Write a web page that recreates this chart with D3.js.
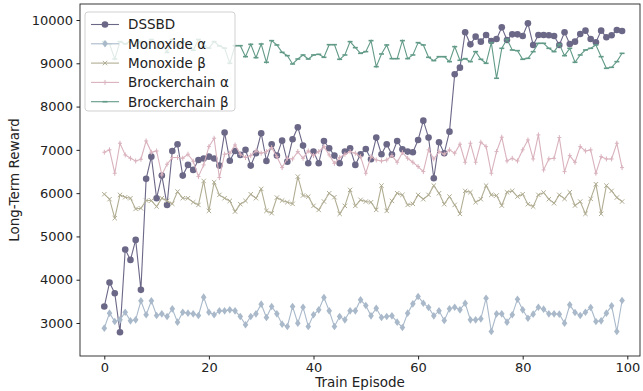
<!DOCTYPE html>
<html><head><meta charset="utf-8">
<script src="https://cdn.jsdelivr.net/npm/d3@7"></script>
<style>body{margin:0;background:#fff}svg text{font-family:"DejaVu Sans",sans-serif}</style>
</head><body><svg id="c" width="643" height="391"></svg>
<script>
const episodes = d3.range(0, 100);
const seriesNames = ["DSSBD","Monoxide α","Monoxide β","Brockerchain α","Brockerchain β"];
const dssbd = [3380,3934,3689,2788,4697,4458,4920,3766,6330,6843,5883,6405,5728,6975,7130,6405,6652,6537,6767,6800,6843,6800,6636,7400,6750,6975,6883,7000,6636,6922,7384,6744,7130,6867,7213,6728,7245,7523,7098,6690,6960,6690,7206,7037,6867,6690,6960,7037,6652,6900,7021,6783,7283,6899,7130,6890,7206,7014,6960,6945,7229,7675,7283,6345,7176,6922,7421,8746,8899,9716,9438,9615,9500,9654,9515,9561,9830,9538,9669,9669,9630,9923,9423,9654,9654,9646,9630,9423,9716,9446,9500,9677,9754,9561,9485,9754,9600,9646,9769,9746];
const monoxideA = [2881,3228,3034,3073,3250,3050,3073,3512,3189,3512,3173,3211,3150,3327,3020,3250,3228,3211,3173,3597,3250,3189,3281,3281,3304,3281,3150,2958,3150,3211,3435,3127,3380,3211,2974,2920,3380,2997,3365,2920,3189,3304,3589,3281,2920,3150,3073,3281,3281,3535,3404,3165,3342,3127,3150,3165,3020,2896,3228,3442,3612,3458,3357,3165,3281,3057,3327,3365,3304,3458,3073,3073,3096,3573,2804,3211,3211,3020,3189,3550,3304,3111,3204,3365,3320,3211,3211,3204,2997,3419,3242,3173,3250,3357,3034,3050,3228,3396,2804,3520];
const monoxideB = [5975,5860,5421,5960,5906,5883,5636,5650,5829,5829,5690,5883,5822,5752,6036,5883,5883,5790,5728,6282,5590,6252,5960,5883,5821,5574,5745,5821,5975,5883,6098,5590,5537,5898,5829,5790,5752,6382,5945,5921,5706,5613,5806,5998,5906,5521,5706,6075,5706,5845,5806,5790,5613,6174,5590,5821,5998,5960,5728,5752,5960,5860,5960,6174,5998,5745,5921,5728,5521,6052,6021,5790,5860,6174,5960,5945,5713,6021,6052,5921,5975,5745,5690,5960,6013,5860,5767,5960,5868,6021,5713,5806,5521,5868,6206,5521,6174,6052,5898,5806];
const brockerA = [6945,7000,6460,7152,6883,6806,6744,6783,7206,6945,6975,6421,6668,6822,6822,6806,6899,6737,6382,6652,7075,7268,6360,6899,6922,7114,6899,6822,6867,6975,6922,6960,7052,6843,6590,6806,6790,6960,6806,6975,6867,6960,7075,6883,6690,6822,6899,6960,6922,6843,6460,6843,6767,6744,6767,6867,6714,6937,6806,6714,6614,6498,7000,6790,6960,6899,7000,6922,7130,6714,7152,6714,7176,7075,6460,6960,7291,6744,6806,6744,7000,7229,6790,7345,6537,6790,6806,7283,6498,6867,6714,7075,6975,7000,6460,6843,6790,6790,7152,6590];
const brockerB = [9500,9450,9100,9500,9450,9500,9400,9500,9350,9550,9350,9500,9250,9550,9400,9500,9450,9300,9550,9400,9350,9500,9400,9350,9000,9407,9407,9153,9438,9130,9446,9023,9523,9423,9253,9176,8984,9099,9192,9099,9192,9207,9138,9430,9430,9092,9192,9500,9361,9230,9269,9523,8922,9215,9423,9107,9107,9523,9107,9192,9477,9423,9138,9061,9153,9153,9038,9384,9069,9107,9038,9269,9092,9000,9477,8654,9346,9554,9307,9292,9092,9115,9269,9461,9461,9346,9269,9438,9176,9346,9023,9192,9307,9346,9423,9153,8884,8907,9038,9230];
const xTicks = [0,20,40,60,80,100];
const yTicks = [3000,4000,5000,6000,7000,8000,9000,10000];

const svg = d3.select("#c");
const L = 80, R = 640, T = 4, B = 356;
const x = d3.scaleLinear().domain([0,100]).range([104.3, 627.3]);
const y = d3.scaleLinear().domain([3000,10000]).range([323, 20]);

const styles = [
  {data:dssbd, color:"#6b6787", marker:"circle"},
  {data:monoxideA, color:"#a9b9ca", marker:"diamond"},
  {data:monoxideB, color:"#b1ad93", marker:"x"},
  {data:brockerA, color:"#d9b2bd", marker:"plus"},
  {data:brockerB, color:"#629a88", marker:"hline"}
];

svg.append("clipPath").attr("id","cp").append("rect")
  .attr("x",L).attr("y",T).attr("width",R-L).attr("height",B-T);

function drawMarker(g, type, cx, cy, color){
  if(type==="circle") g.append("circle").attr("cx",cx).attr("cy",cy).attr("r",3.3).attr("fill",color);
  else if(type==="diamond") g.append("path").attr("d",`M${cx},${cy-3.8}L${cx+2.8},${cy}L${cx},${cy+3.8}L${cx-2.8},${cy}Z`).attr("fill",color);
  else if(type==="x") g.append("path").attr("d",`M${cx-2.2},${cy-2.2}L${cx+2.2},${cy+2.2}M${cx-2.2},${cy+2.2}L${cx+2.2},${cy-2.2}`).attr("stroke",color).attr("stroke-width",1);
  else if(type==="plus") g.append("path").attr("d",`M${cx},${cy-2.5}L${cx},${cy+2.5}M${cx-2},${cy}L${cx+2},${cy}`).attr("stroke",color).attr("stroke-width",1);
  else if(type==="hline") g.append("path").attr("d",`M${cx-2.5},${cy}L${cx+2.5},${cy}`).attr("stroke",color).attr("stroke-width",1.6);
}

const plot = svg.append("g").attr("clip-path","url(#cp)");
styles.forEach(s => {
  const line = d3.line().x((d,i)=>x(episodes[i])).y(d=>y(d));
  plot.append("path").datum(s.data).attr("d",line).attr("fill","none").attr("stroke",s.color).attr("stroke-width",1.1);
  const mg = plot.append("g");
  s.data.forEach((v,i)=>drawMarker(mg, s.marker, x(episodes[i]), y(v), s.color));
});

svg.append("rect").attr("x",L).attr("y",T).attr("width",R-L).attr("height",B-T).attr("fill","none").attr("stroke","#222").attr("stroke-width",0.9);

const xa = svg.append("g").attr("transform",`translate(0,${B})`)
  .call(d3.axisBottom(x).tickValues(xTicks).tickSize(3.5).tickPadding(3.5));
const ya = svg.append("g").attr("transform",`translate(${L},0)`)
  .call(d3.axisLeft(y).tickValues(yTicks).tickSize(3.5).tickPadding(3.5).tickFormat(d3.format("d")));
[xa,ya].forEach(a=>{a.select(".domain").remove(); a.selectAll("text").attr("font-size","13px").attr("fill","#222"); a.selectAll("line").attr("stroke","#222");});

svg.append("text").attr("x",(L+R)/2).attr("y",387).attr("text-anchor","middle").attr("font-size","13.5px").attr("fill","#222").text("Train Episode");
svg.append("text").attr("transform",`translate(19,${(T+B)/2}) rotate(-90)`).attr("text-anchor","middle").attr("font-size","13.5px").attr("fill","#222").text("Long-Term Reward");

const lg = svg.append("g");
lg.append("rect").attr("x",85).attr("y",12).attr("width",150).attr("height",99).attr("rx",3)
  .attr("fill","#fff").attr("fill-opacity",0.8).attr("stroke","#ccc").attr("stroke-width",0.9);
styles.forEach((s,i)=>{
  const cy = 24.5 + i*19.3;
  lg.append("line").attr("x1",91).attr("x2",119).attr("y1",cy).attr("y2",cy).attr("stroke",s.color).attr("stroke-width",1.1);
  drawMarker(lg, s.marker, 105, cy, s.color);
  lg.append("text").attr("x",128).attr("y",cy+4.8).attr("font-size","13.5px").attr("fill","#222").text(seriesNames[i]);
});
</script></body></html>
